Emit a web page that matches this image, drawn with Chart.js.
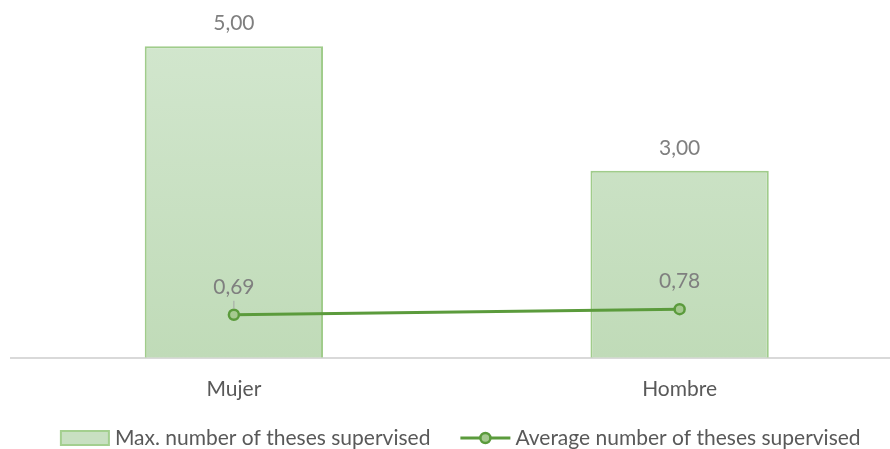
<!DOCTYPE html>
<html>
<head>
<meta charset="utf-8">
<script src="https://cdn.jsdelivr.net/npm/chart.js@4"></script>
<style>
  html, body { margin: 0; padding: 0; background: #fff; overflow: hidden; }
</style>
</head>
<body>
<canvas id="thesesChart" width="910" height="449"></canvas>
<script>
const categories = ['Mujer', 'Hombre'];
const maxTheses = [5.00, 3.00];
const avgTheses = [0.69, 0.78];
const seriesNames = ['Max. number of theses supervised', 'Average number of theses supervised'];

const FONT = 'Lato, "Open Sans", sans-serif';
const fmt = v => v.toFixed(2).replace('.', ',');

function barGradient(c) {
    const area = c.chart.chartArea;
    if (!area) return '#c8e0c2';
    const g = c.chart.ctx.createLinearGradient(0, area.top, 0, area.bottom);
    g.addColorStop(0, '#d3e7cf');
    g.addColorStop(1, '#c0dbb8');
    return g;
}

const valueLabels = {
    id: 'valueLabels',
    afterDatasetsDraw(chart) {
        const ctx = chart.ctx;
        ctx.save();
        ctx.font = '21px ' + FONT;
        ctx.fillStyle = '#7f7f7f';
        ctx.textAlign = 'center';
        ctx.textBaseline = 'middle';
        chart.getDatasetMeta(0).data.forEach((el, i) => {
            ctx.fillText(fmt(maxTheses[i]), el.x, el.y - 23);
        });
        chart.getDatasetMeta(1).data.forEach((el, i) => {
            ctx.fillText(fmt(avgTheses[i]), el.x, el.y - 28);
            if (i === 0) {
                ctx.strokeStyle = '#a6a6a6';
                ctx.lineWidth = 1;
                ctx.beginPath();
                ctx.moveTo(el.x, el.y - 14);
                ctx.lineTo(el.x, el.y - 6);
                ctx.stroke();
            }
        });
        ctx.restore();
    }
};

const customLegend = {
    id: 'customLegend',
    afterDraw(chart) {
        const ctx = chart.ctx;
        const area = chart.chartArea;
        ctx.save();
        ctx.font = '21px ' + FONT;
        const w1 = ctx.measureText(seriesNames[0]).width;
        const w2 = ctx.measureText(seriesNames[1]).width;
        const total = 48 + 6 + w1 + 30 + 50 + 5 + w2;
        let x = (area.left + area.right) / 2 + 4 - total / 2;
        const y = 438;
        // bar item
        ctx.fillStyle = '#c8e0c2';
        ctx.strokeStyle = '#a3cf8f';
        ctx.lineWidth = 2;
        ctx.fillRect(x, y - 7, 48, 14);
        ctx.strokeRect(x, y - 7, 48, 14);
        x += 54;
        ctx.fillStyle = '#595959';
        ctx.textBaseline = 'middle';
        ctx.fillText(seriesNames[0], x, y);
        x += w1 + 30;
        // line item
        ctx.strokeStyle = '#5b9b3c';
        ctx.lineWidth = 3;
        ctx.beginPath();
        ctx.moveTo(x, y);
        ctx.lineTo(x + 50, y);
        ctx.stroke();
        ctx.beginPath();
        ctx.arc(x + 25, y, 5, 0, Math.PI * 2);
        ctx.fillStyle = '#a5c98f';
        ctx.fill();
        ctx.lineWidth = 2.5;
        ctx.stroke();
        x += 55;
        ctx.fillStyle = '#595959';
        ctx.fillText(seriesNames[1], x, y);
        ctx.restore();
    }
};

const ctx = document.getElementById('thesesChart').getContext('2d');
const thesesChart = new Chart(ctx, {
    data: {
        labels: categories,
        datasets: [
            { type: 'bar', label: seriesNames[0], data: maxTheses, backgroundColor: barGradient, borderColor: '#a0cc8b',
              borderWidth: 2, borderSkipped: 'bottom', barPercentage: 0.4, categoryPercentage: 1, order: 1 },
            { type: 'line', label: seriesNames[1], data: avgTheses, borderColor: '#5b9b3c', borderWidth: 3,
              pointRadius: 5, pointHoverRadius: 5, pointBackgroundColor: '#a5c98f', pointBorderColor: '#5b9b3c',
              pointBorderWidth: 2.5, tension: 0, order: 0 }
        ]
    },
    options: {
        responsive: false,
        animation: false,
        layout: { padding: { top: 15, left: 11, right: 1, bottom: 28 } },
        scales: {
            x: {
                grid: { display: false, drawTicks: false },
                border: { display: true, color: '#d9d9d9', width: 2 },
                ticks: { color: '#595959', font: { size: 21, family: FONT }, padding: 19 }
            },
            y: { display: false, min: 0, max: 5.5 }
        },
        plugins: { legend: { display: false }, tooltip: { enabled: false } }
    },
    plugins: [valueLabels, customLegend]
});
</script>
</body>
</html>
